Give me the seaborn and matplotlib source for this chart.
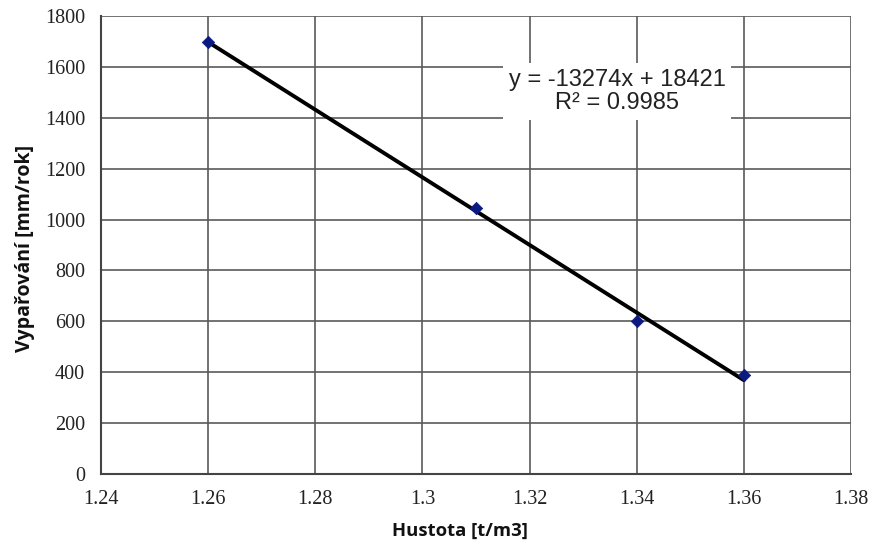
import numpy as np
import pandas as pd
import matplotlib
matplotlib.use("Agg")
import matplotlib.pyplot as plt
import seaborn as sns

hustota = [1.26, 1.31, 1.34, 1.36]
vyparovani = [1698, 1045, 603, 388]
x_ticks = [1.24, 1.26, 1.28, 1.30, 1.32, 1.34, 1.36, 1.38]
x_tick_labels = ["1.24", "1.26", "1.28", "1.3", "1.32", "1.34", "1.36", "1.38"]
y_ticks = [0, 200, 400, 600, 800, 1000, 1200, 1400, 1600, 1800]
equation_text = "y = -13274x + 18421\nR² = 0.9985"

df = pd.DataFrame({"Hustota": hustota, "Vyparovani": vyparovani})

sns.set_style("white")
fig = plt.figure(figsize=(8.69, 5.45), dpi=100)
W, H = 869, 545
ax = fig.add_axes([101 / W, (H - 474) / H, 750 / W, 458 / H])

sns.regplot(data=df, x="Hustota", y="Vyparovani", ax=ax, ci=None, truncate=True,
            scatter=False, line_kws=dict(color="black", lw=2.8, zorder=3))
sns.scatterplot(data=df, x="Hustota", y="Vyparovani", ax=ax, marker="D", s=40,
                color="#0a1a80", edgecolor="#0a1a80", zorder=4)

ax.set_xlim(1.24, 1.38)
ax.set_ylim(0, 1800)
ax.set_xticks(x_ticks)
ax.set_xticklabels(x_tick_labels)
ax.set_yticks(y_ticks)
ax.grid(True, color="#5a5a5a", lw=1.2)
ax.set_axisbelow(True)
for s in ["top", "right"]:
    ax.spines[s].set_visible(False)
for s in ["left", "bottom"]:
    ax.spines[s].set_color("#444444")
    ax.spines[s].set_linewidth(1.5)
ax.tick_params(axis="both", direction="out", length=4, width=1.2, color="#444444",
               labelsize=14.5, pad=7.5, labelcolor="#222222")
for lab in ax.get_xticklabels() + ax.get_yticklabels():
    lab.set_fontfamily("Liberation Serif")

ax.set_xlabel("Hustota [t/m3]", fontsize=13.3, fontweight="bold", family="Open Sans",
              color="#111111")
ax.set_ylabel("Vypařování [mm/rok]", fontsize=14, fontweight="bold", family="Open Sans",
              color="#111111")
ax.xaxis.set_label_coords((459.5 - 101) / 750, -(531 - 474) / 458)
ax.yaxis.set_label_coords(-(101 - 25) / 750, (474 - 248) / 458)
ax.xaxis.label.set_va("center")
ax.yaxis.label.set_va("center")

ax.text((617 - 101) / 750, (474 - 91.5) / 458, equation_text, transform=ax.transAxes,
        ha="center", va="center", fontsize=17, family="Liberation Sans", color="#222222",
        linespacing=1.1, bbox=dict(facecolor="white", edgecolor="none", pad=4), zorder=5)

fig.savefig("out.png", dpi=100)
